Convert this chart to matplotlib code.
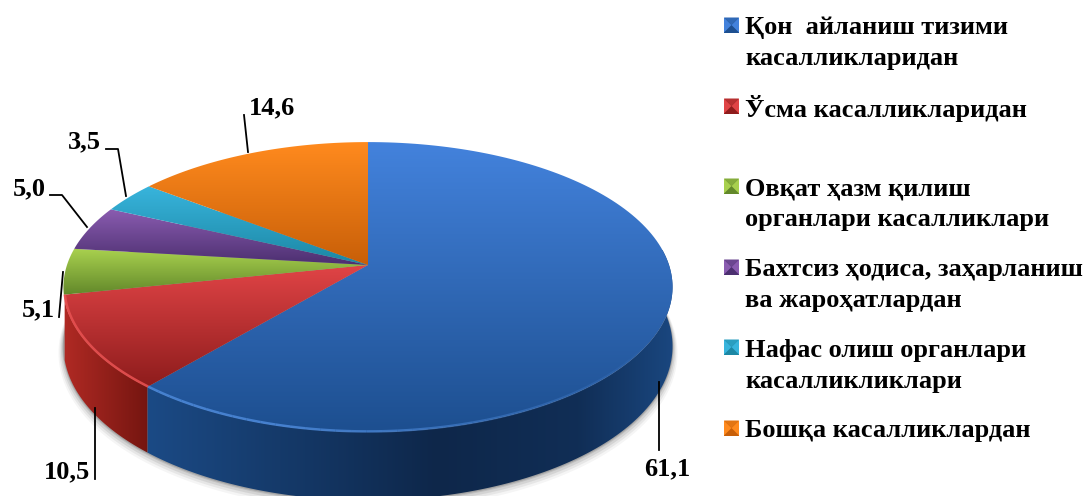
import matplotlib
matplotlib.use('Agg')
import matplotlib.pyplot as plt
import numpy as np
from matplotlib.patches import Polygon

# значения и подписи
categories = ['Қон  айланиш тизими\nкасалликларидан', 'Ўсма касалликларидан',
              'Овқат ҳазм қилиш\nорганлари касалликлари', 'Бахтсиз ҳодиса, заҳарланиш\nва жароҳатлардан',
              'Нафас олиш органлари\nкасалликликлари', 'Бошқа касалликлардан']
values = [61.1, 10.5, 5.1, 5.0, 3.5, 14.6]
value_labels = ['61,1', '10,5', '5,1', '5,0', '3,5', '14,6']

top_light = ['#4382dc', '#e04446', '#a8d04e', '#8a5cb0', '#38b4dc', '#ff8a1e']
top_dark = ['#1d4f90', '#8e1c1c', '#62882a', '#4c2f70', '#1c87a4', '#c85f08']
side_light = ['#1b4a85', '#b02a24']
side_dark = ['#0e274a', '#741510']

plt.rcParams['font.family'] = ['Liberation Serif', 'DejaVu Serif']
plt.rcParams['font.weight'] = 'bold'

fig = plt.figure(figsize=(10.88, 4.96), dpi=100)
ax = fig.add_axes([0, 0, 1, 1])
ax.set_xlim(0, 1088)
ax.set_ylim(496, 0)
ax.axis('off')

cx, cy = 368, 265
a, b, k = 301, 141.6, 0.152
depth = 58


def project(ang, r=1.0, dz=0.0):
    # ang по часовой от верха, перспектива: ближний край крупнее
    u = r * np.sin(ang)
    v = -r * np.cos(ang)
    s = 1 - k * v
    return cx + a * u / s, cy + (b * v + dz) / s


def hex2rgb(c):
    return np.array(matplotlib.colors.to_rgb(c))


def grad(c1, c2, n=64):
    t = np.linspace(0, 1, n)[:, None]
    return hex2rgb(c1) * (1 - t) + hex2rgb(c2) * t


# тень под диском
all_ang = np.linspace(0, 2 * np.pi, 400)
for off, alpha in zip([8, 6, 4, 2, 1], [0.04, 0.06, 0.08, 0.1, 0.14]):
    x, y = project(all_ang, r=1 + off * 0.002, dz=depth + off * 0.7)
    ax.add_patch(Polygon(np.c_[x, y], closed=True, fc='black', alpha=alpha, ec='none', zorder=1))

edges = np.radians(np.r_[0, np.cumsum(values)] / sum(values) * 360)

# боковая стенка (видна только спереди)
side_limits = [(np.radians(82), edges[1]), (edges[1], edges[2] - np.radians(2))]
for i, (a0, a1) in enumerate(side_limits):
    ang = np.linspace(a0, a1, 120)
    xt, yt = project(ang)
    xb, yb = project(ang[::-1], dz=depth)
    poly = Polygon(np.r_[np.c_[xt, yt], np.c_[xb, yb]], closed=True, fc='none', ec='none', zorder=2)
    ax.add_patch(poly)
    t = np.linspace(0, 1, 256)
    if i == 0:
        # синяя: светлее слева, темнеет к середине, к правому краю снова светлее
        ramp = np.interp(t, [0, 0.55, 0.82, 1], [0, 1, 0.8, 0.1])[:, None]
        ext = [xt.min(), xt.max() + 1, 496, 250]
    else:
        ramp = t[:, None]
        ext = [xb.min() - 1, xt.max() + 1, 496, 250]
    img = hex2rgb(side_light[i]) * (1 - ramp) + hex2rgb(side_dark[i]) * ramp
    im = ax.imshow(img[None, :, :], extent=ext, aspect='auto', zorder=2, interpolation='bilinear')
    im.set_clip_path(poly)

# верхняя грань
for i in range(len(values)):
    ang = np.linspace(edges[i], edges[i + 1], 150)
    x, y = project(ang)
    poly = Polygon(np.r_[[[cx, cy]], np.c_[x, y]], closed=True, fc='none', ec='none', zorder=3)
    ax.add_patch(poly)
    img = grad(top_light[i], top_dark[i])
    if i == 0:
        ext = [60, 680, 432, 142]
    else:
        ext = [60, 680, max(y.max(), cy), min(y.min(), cy)]
    im = ax.imshow(img[:, None, :], extent=ext, aspect='auto', zorder=3, interpolation='bilinear')
    if ext[2] > ext[3]:
        im.set_clip_path(poly)

# светлая кромка по переднему краю: яркая слева, вправо плавно гаснет
steps = np.linspace(np.radians(120), edges[1], 41)
for j in range(40):
    ang = np.linspace(steps[j], steps[j + 1], 6)
    x, y = project(ang, r=0.997)
    ax.plot(x, y, color='#4a86d6', lw=1.8, alpha=min(1, (j + 1) / 30) * 0.9, zorder=4, solid_capstyle='butt')
ang = np.linspace(edges[1], edges[2], 60)
x, y = project(ang, r=0.997)
ax.plot(x, y, color='#e65050', lw=1.8, alpha=0.9, zorder=4, solid_capstyle='butt')

# выноски и подписи значений
leader_x = [[659, 659], [95, 95], [63, 59], [50, 62, 87], [106, 118, 126], [244, 248]]
leader_y = [[382, 450], [408, 479], [272, 317], [195, 195, 227], [149, 149, 196], [115, 152]]
label_xy = [(667, 469), (67, 472), (38, 310), (29, 189), (84, 142), (272, 108)]
for i in range(len(values)):
    ax.plot(leader_x[i], leader_y[i], color='black', lw=1.3, zorder=5)
    ax.text(label_xy[i][0], label_xy[i][1], value_labels[i], fontsize=19, ha='center', va='center', color='black', zorder=6)

# легенда
legend_y = [25, 106, 186, 267, 347, 428]
text_y = [43, 108, 204, 285, 366, 430]
for i in range(len(values)):
    x0, y0, w, h = 724, legend_y[i] - 7.5, 15, 15
    c = (x0 + w / 2, y0 + h / 2)
    tl, tr, bl, br = (x0, y0), (x0 + w, y0), (x0, y0 + h), (x0 + w, y0 + h)
    mid = (hex2rgb(top_light[i]) + hex2rgb(top_dark[i])) / 2
    ax.add_patch(Polygon([tl, tr, br, bl], closed=True, fc=top_dark[i], ec='none', zorder=5))
    ax.add_patch(Polygon([tl, c, bl], closed=True, fc=top_light[i], ec='none', zorder=6))
    ax.add_patch(Polygon([tr, c, br], closed=True, fc=top_light[i], ec='none', zorder=6))
    ax.add_patch(Polygon([tl, tr, c], closed=True, fc=mid, ec='none', zorder=6))
    ax.text(745, text_y[i], categories[i], fontsize=19, ha='left', va='center', color='black', linespacing=1.4, zorder=6)

plt.savefig('out.png', dpi=100)
